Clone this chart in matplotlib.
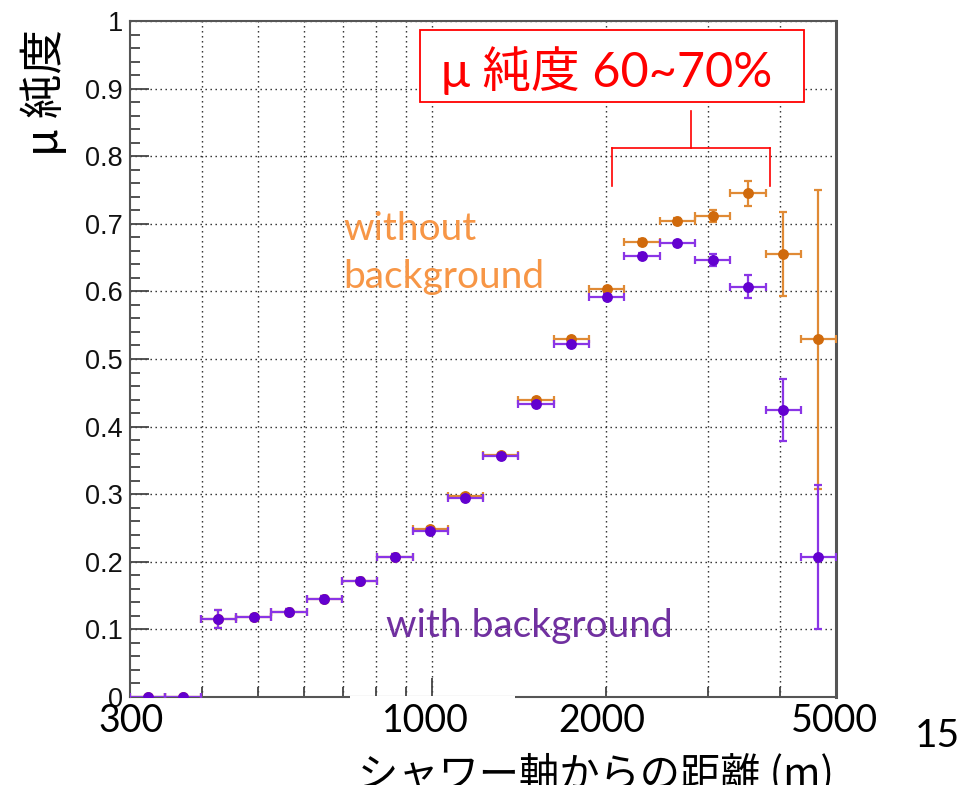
import numpy as np
import matplotlib
matplotlib.use('Agg')
import matplotlib.pyplot as plt
from matplotlib.patches import Rectangle
from matplotlib.lines import Line2D

# log-uniform bins from 300 m to 5000 m (20 bins)
bin_edges = [300, 345.3, 397.5, 457.6, 526.7, 606.3, 697.9, 803.4, 924.8, 1064.5,
             1225.4, 1410.5, 1623.7, 1869.0, 2151.4, 2476.5, 2850.7, 3281.4,
             3777.2, 4347.9, 5000]

# mu purity with background (purple)
with_bg = [0, 0, 0.115, 0.118, 0.126, 0.145, 0.172, 0.207, 0.246, 0.295,
           0.356, 0.434, 0.522, 0.592, 0.653, 0.671, 0.647, 0.607, 0.424, 0.207]
with_bg_err = [0, 0, 0.013, 0.004, 0.004, 0.004, 0.004, 0.004, 0.004, 0.003,
               0.003, 0.003, 0.003, 0.004, 0.004, 0.004, 0.009, 0.017, 0.046, 0.107]

# mu purity without background (orange)
without_bg = [0, 0, 0.115, 0.118, 0.126, 0.145, 0.172, 0.207, 0.248, 0.298,
              0.358, 0.439, 0.529, 0.603, 0.673, 0.704, 0.711, 0.745, 0.655, 0.529]
without_bg_err = [0, 0, 0.013, 0.004, 0.004, 0.004, 0.004, 0.004, 0.004, 0.003,
                  0.003, 0.003, 0.003, 0.004, 0.004, 0.005, 0.009, 0.018, 0.062, 0.221]

yticks = [0, 0.1, 0.2, 0.3, 0.4, 0.5, 0.6, 0.7, 0.8, 0.9, 1]
ytick_labels = ['0', '0.1', '0.2', '0.3', '0.4', '0.5', '0.6', '0.7', '0.8', '0.9', '1']
xminor = [400, 500, 600, 700, 800, 900, 2000, 3000, 4000]
xlabels_overlay = ['300', '1000', '2000', '5000']

W, H = 971, 785
def fx(px):
    return px / W
def fy(py):
    return 1 - py / H

edges = np.array(bin_edges)
xc = np.sqrt(edges[:-1] * edges[1:])
xerr = [xc - edges[:-1], edges[1:] - xc]

fig = plt.figure(figsize=(W / 100, H / 100), dpi=100)
ax = fig.add_axes([fx(130), fy(697), (836 - 130) / W, (697 - 21) / H])

ax.errorbar(xc, without_bg, xerr=xerr, yerr=without_bg_err, fmt='o', ms=6.8,
            color='#e08a35', mfc='#d06a0c', mec='#d06a0c', elinewidth=1.6,
            capsize=2.8, capthick=1.6, zorder=3)
ax.errorbar(xc, with_bg, xerr=xerr, yerr=with_bg_err, fmt='o', ms=6.8,
            color='#8a35e6', mfc='#6300cf', mec='#6300cf', elinewidth=1.6,
            capsize=2.8, capthick=1.6, zorder=4)

ax.set_xscale('log')
ax.set_xlim(300, 5000)
ax.set_ylim(0, 1)
ax.set_xticks([1000])
ax.set_xticks(xminor, minor=True)
ax.set_xticklabels([])
ax.set_xticklabels([], minor=True)
ax.set_yticks(yticks)
ax.set_yticklabels(ytick_labels, fontsize=19.5, family='Liberation Sans', color='#111111')
ax.set_yticks(np.arange(0, 1.001, 0.02), minor=True)

ax.tick_params(which='major', direction='in', length=14, width=1.3, color='#444444',
               top=False, right=False, pad=5)
ax.tick_params(which='minor', direction='in', length=7.5, width=1.3, color='#444444',
               top=False, right=False)
ax.grid(True, which='major', axis='both', color='#222222', linestyle=(0, (1, 2.6)), lw=1.0)
ax.grid(True, which='minor', axis='x', color='#222222', linestyle=(0, (1, 2.6)), lw=1.0)
ax.set_axisbelow(True)
for s in ax.spines.values():
    s.set_color('#555555')
    s.set_linewidth(1.5)
ax.spines['right'].set_linewidth(2.2)

# white patch over the bottom frame (from the slide's text box)
fig.patches.append(Rectangle((fx(350), fy(700)), (515 - 350) / W, 4.5 / H,
                             transform=fig.transFigure, facecolor='white',
                             edgecolor='none', zorder=5))

# slide overlays
cjk = ['Noto Sans CJK JP', 'DejaVu Sans']
latin = ['Lato', 'Noto Sans CJK JP', 'DejaVu Sans']

fig.text(fx(45), fy(92), 'μ 純度', rotation=90, fontsize=32, family=cjk,
         ha='center', va='center')

for lab, px in zip(xlabels_overlay, [131, 425, 602, 834]):
    fig.text(fx(px), fy(732), lab, fontsize=27, family=latin, ha='center', va='baseline')
fig.text(fx(937), fy(747), '15', fontsize=28, family=latin, ha='center', va='baseline')

fig.text(fx(596), fy(754), 'シャワー軸からの距離 (m)', fontsize=29, family=cjk,
         ha='center', va='top')

fig.text(fx(343), fy(240), 'without', fontsize=28, family=latin, color='#f79646',
         ha='left', va='baseline')
fig.text(fx(343), fy(288), 'background', fontsize=28, family=latin, color='#f79646',
         ha='left', va='baseline')
fig.text(fx(386), fy(637), 'with background', fontsize=28, family=latin, color='#7030a0',
         ha='left', va='baseline')

# red box and bracket
fig.patches.append(Rectangle((fx(420), fy(102)), (804 - 420) / W, (102 - 30) / H,
                             transform=fig.transFigure, facecolor='white',
                             edgecolor='#ff0000', lw=1.3, zorder=6))
fig.text(fx(607), fy(87), 'μ 純度 60~70%', fontsize=35, family=latin, color='#ff0000',
         ha='center', va='baseline', zorder=7)
for (x0, y0, x1, y1) in [(691, 111, 691, 148), (612, 148, 770, 148),
                         (612, 148, 612, 186), (770, 148, 770, 186)]:
    fig.lines.append(Line2D([fx(x0), fx(x1)], [fy(y0), fy(y1)], transform=fig.transFigure,
                            color='#ff0000', lw=1.2, zorder=6))

fig.savefig('out.png', dpi=100)
